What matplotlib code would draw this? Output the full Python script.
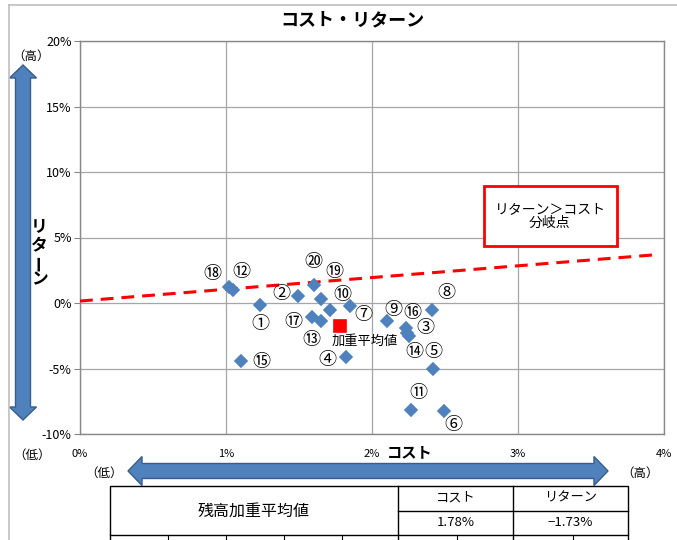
import matplotlib
matplotlib.use("Agg")
import matplotlib.pyplot as plt
from matplotlib.patches import Polygon, Rectangle
from matplotlib.lines import Line2D

plt.rcParams['font.family'] = ['Noto Sans CJK JP', 'DejaVu Sans']

# ---------------- data ----------------
labels = ['①', '②', '③', '④', '⑤', '⑥', '⑦', '⑧', '⑨', '⑩',
          '⑪', '⑫', '⑬', '⑭', '⑮', '⑯', '⑰', '⑱', '⑲', '⑳']
cost = [1.23, 1.49, 2.24, 1.82, 2.42, 2.49, 1.85, 2.41, 2.10, 1.71,
        2.27, 1.05, 1.65, 2.25, 1.10, 2.23, 1.59, 1.02, 1.65, 1.60]
ret = [-0.19, 0.57, -2.27, -4.11, -5.02, -8.26, -0.24, -0.57, -1.41, -0.55,
       -8.18, 0.98, -1.36, -2.52, -4.44, -1.89, -1.05, 1.24, 0.27, 1.34]
avg_cost = 1.78
avg_ret = -1.73
avg_label = '加重平均値'
line_x = [0.0, 3.96]
line_y = [0.15, 3.70]
xticks = [0, 1, 2, 3, 4]
yticks = [-10, -5, 0, 5, 10, 15, 20]

# label offsets (pixels) for each numbered point
offsets = [(1, -19), (-16, 2), (18, 5), (-18, -3), (0, 17), (10, -14), (13, -9),
           (15, 17), (7, 11), (13, 15), (7, 17), (8, 18), (-10, -19), (6, -16),
           (21, -1), (7, 15), (-19, -5), (-17, 13), (13, 27), (0, 23)]

W, H = 677, 540
fig = plt.figure(figsize=(W / 100, H / 100), dpi=100)


def fx(x):
    return x / W


def fy(y):
    return 1 - y / H


# outer border
fig.add_artist(Line2D([fx(9), fx(9)], [fy(5), fy(540)], color='#BFBFBF', lw=1.2))
fig.add_artist(Line2D([fx(9), fx(677)], [fy(5), fy(5)], color='#BFBFBF', lw=1.2))

ax = fig.add_axes([fx(80), fy(434), (664 - 80) / W, (434 - 41) / H])
ax.set_xlim(0, 4)
ax.set_ylim(-10, 20)
ax.set_xticks(xticks)
ax.set_yticks(yticks)
ax.set_xticklabels([f'{v}%' for v in xticks], fontsize=8)
ax.set_yticklabels([f'{v}%' for v in yticks], fontsize=9)
ax.tick_params(axis='x', length=0, pad=11)
ax.tick_params(axis='y', length=4, color='#888888', pad=2)
ax.grid(True, color='#A6A6A6', lw=0.9)
ax.set_axisbelow(True)
for s in ax.spines.values():
    s.set_color('#888888')
    s.set_linewidth(1.0)

# break-even line
ax.plot(line_x, line_y, color='#FF0000', lw=2.2, dashes=(4.2, 2.6), zorder=3)

# points
ax.plot(cost, ret, linestyle='none', marker='D', ms=6.2, color='#4F81BD',
        mec='#4F81BD', mew=1.2, zorder=4)
for lab, x, y, (dx, dy) in zip(labels, cost, ret, offsets):
    ax.annotate(lab, (x, y), xytext=(dx, dy), textcoords='offset pixels',
                ha='center', va='center', fontsize=13, zorder=5)

ax.plot([avg_cost], [avg_ret], linestyle='none', marker='s', ms=8, color='#FF0000',
        mec='#FF0000', mew=1.2, zorder=5)
ax.annotate(avg_label, (avg_cost, avg_ret), xytext=(25, -16), textcoords='offset pixels',
            ha='center', va='center', fontsize=9.5, zorder=5)

# box
box = Rectangle((fx(484), fy(246)), (617 - 484) / W, (246 - 186) / H,
                transform=fig.transFigure, facecolor='white', edgecolor='#FF0000',
                lw=2.0, zorder=6)
fig.add_artist(box)
fig.text(fx(550), fy(209), 'リターン＞コスト', ha='center', va='center', fontsize=10, zorder=7)
fig.text(fx(550), fy(223), '分岐点', ha='center', va='center', fontsize=10, zorder=7)

# title and axis labels
fig.text(fx(352), fy(20), 'コスト・リターン', ha='center', va='center',
         fontsize=13, fontweight='bold')
fig.text(fx(410), fy(452), 'コスト', ha='center', va='center', fontsize=11, fontweight='bold')
for ch, yy, rot in [('リ', 226, 0), ('タ', 246, 0), ('ー', 263, 90), ('ン', 279, 0)]:
    fig.text(fx(39), fy(yy), ch, ha='center', va='center', fontsize=12,
             fontweight='bold', rotation=rot)

fig.text(fx(31), fy(56), '（高）', ha='center', va='center', fontsize=9)
fig.text(fx(32), fy(455), '（低）', ha='center', va='center', fontsize=9)
fig.text(fx(104), fy(473), '（低）', ha='center', va='center', fontsize=9)
fig.text(fx(640), fy(473), '（高）', ha='center', va='center', fontsize=9)

# arrows
arrow_face = '#4F81BD'
arrow_edge = '#385D8A'
cx, t, b, hl, hw, sw = 23, 65, 420, 13, 27, 15
v_pts = [(cx, t), (cx + hw / 2, t + hl), (cx + sw / 2, t + hl), (cx + sw / 2, b - hl),
         (cx + hw / 2, b - hl), (cx, b), (cx - hw / 2, b - hl), (cx - sw / 2, b - hl),
         (cx - sw / 2, t + hl), (cx - hw / 2, t + hl)]
fig.add_artist(Polygon([(fx(a), fy(c)) for a, c in v_pts], closed=True,
                       transform=fig.transFigure, facecolor=arrow_face,
                       edgecolor=arrow_edge, lw=1.0))
cy, l, r, hl, hw, sw = 471, 128, 608, 14, 29, 15
h_pts = [(l, cy), (l + hl, cy - hw / 2), (l + hl, cy - sw / 2), (r - hl, cy - sw / 2),
         (r - hl, cy - hw / 2), (r, cy), (r - hl, cy + hw / 2), (r - hl, cy + sw / 2),
         (l + hl, cy + sw / 2), (l + hl, cy + hw / 2)]
fig.add_artist(Polygon([(fx(a), fy(c)) for a, c in h_pts], closed=True,
                       transform=fig.transFigure, facecolor=arrow_face,
                       edgecolor=arrow_edge, lw=1.0))

# table
tl, tr, tt, tb, tm = 110, 628, 485.5, 535, 510.7
c1, c2 = 398, 513
fig.add_artist(Rectangle((fx(tl), fy(tb)), (tr - tl) / W, (tb - tt) / H,
                         transform=fig.transFigure, facecolor='white',
                         edgecolor='black', lw=1.0))
for xx in (c1, c2):
    fig.add_artist(Line2D([fx(xx), fx(xx)], [fy(tt), fy(540)], color='black', lw=1.0))
fig.add_artist(Line2D([fx(c1), fx(tr)], [fy(tm), fy(tm)], color='black', lw=1.0))
for xx in (168, 226, 284, 342, 457, 573):
    fig.add_artist(Line2D([fx(xx), fx(xx)], [fy(tb), fy(540)], color='black', lw=0.8))
fig.add_artist(Line2D([fx(tl), fx(tl)], [fy(tb), fy(540)], color='black', lw=1.0))
fig.add_artist(Line2D([fx(tr), fx(tr)], [fy(tb), fy(540)], color='black', lw=1.0))

fig.text(fx((tl + c1) / 2), fy(511), '残高加重平均値', ha='center', va='center', fontsize=11.5)
fig.text(fx((c1 + c2) / 2), fy(498), 'コスト', ha='center', va='center', fontsize=9.5)
fig.text(fx((c2 + tr) / 2), fy(498), 'リターン', ha='center', va='center', fontsize=9.5)
fig.text(fx((c1 + c2) / 2), fy(523), f'{avg_cost:.2f}%', ha='center', va='center', fontsize=9.5)
fig.text(fx((c2 + tr) / 2), fy(523), f'\u2212{abs(avg_ret):.2f}%', ha='center', va='center',
         fontsize=9.5)

fig.savefig('out.png', dpi=100)
